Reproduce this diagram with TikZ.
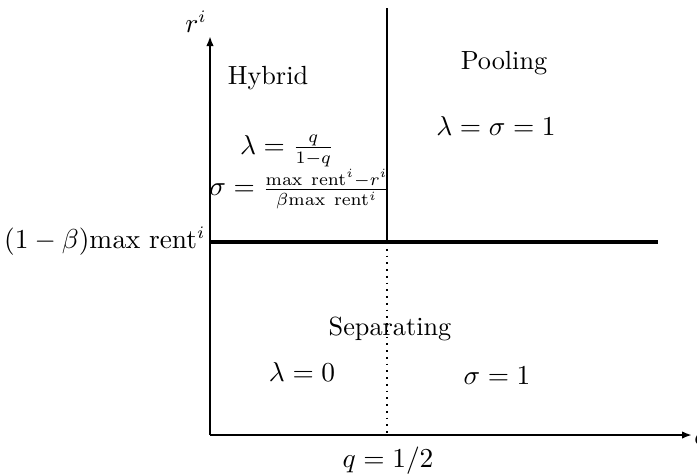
\documentclass[tikz,border=0pt]{standalone}
\usetikzlibrary{arrows.meta}
\begin{document}
\begin{tikzpicture}[x=0.4pt,y=-0.4pt,
  axis/.style={line width=0.8pt,-{Latex[length=4pt,width=3pt]}},
  divider/.style={line width=0.6pt},
  bold/.style={line width=1.6pt},
  dotline/.style={line width=0.7pt,dotted},
  lbl/.style={inner sep=0pt,font=\fontsize{10.5}{12}\selectfont}]
\clip (0,0) rectangle (697,475);
\fill[white] (0,0) rectangle (697,475);
\coordinate (O) at (210,435);
\coordinate (Ytop) at (210,36);
\coordinate (Xend) at (692,435);
\coordinate (Vtop) at (387,8);
\coordinate (Vmid) at (387,242);
\coordinate (Vbot) at (387,433);
\coordinate (Hl) at (210,242);
\coordinate (Hr) at (658,242);
\draw[axis] (O) -- (Ytop);
\draw[axis] (O) -- (Xend);
\draw[divider] (Vtop) -- (Vmid);
\draw[dotline] (Vmid) -- (Vbot);
\draw[bold] (Hl) -- (Hr);
\node[lbl] (ry) at (196,22) {$r^i$};
\node[lbl] (qx) at (701,441) {$q$};
\node[lbl] (hyb) at (268,78) {Hybrid};
\node[lbl] (pool) at (504,63) {Pooling};
\node[lbl] (ls1) at (496,126) {$\lambda=\sigma=1$};
\node[lbl] (lam) at (287,151) {$\lambda=\frac{q}{1-q}$};
\node[lbl] (sig) at (300,189) {$\sigma=\frac{\mathrm{max\ rent}^i-r^i}{\beta\mathrm{max\ rent}^i}$};
\node[lbl,anchor=east] (hl) at (206,241) {$(1-\beta)\mathrm{max\ rent}^i$};
\node[lbl] (sep) at (390,329) {Separating};
\node[lbl] (l0) at (302,372) {$\lambda=0$};
\node[lbl] (s1) at (497,376) {$\sigma=1$};
\node[lbl] (qh) at (388,461) {$q=1/2$};
\end{tikzpicture}
\end{document}
